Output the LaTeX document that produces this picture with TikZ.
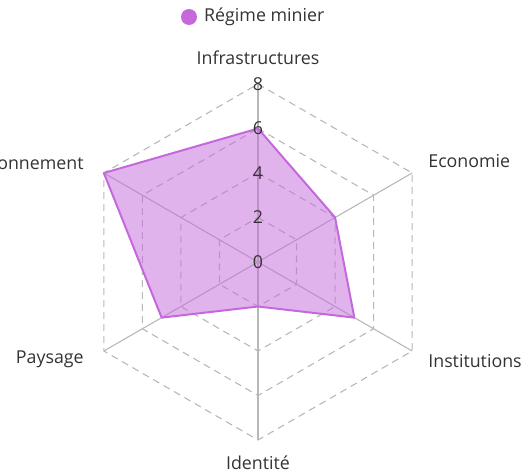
\documentclass[tikz,border=0pt]{standalone}
\usepackage{fontspec}
\setmainfont{Open Sans}
\usepackage{xcolor}
\usepackage{tikz}
\usetikzlibrary{positioning}
\definecolor{minecol}{HTML}{C468DC}
\definecolor{gridcol}{HTML}{B8B8B8}
\definecolor{txtcol}{HTML}{333333}
\tikzset{
  ringline/.style={gridcol,dashed,dash pattern=on 7pt off 5pt,line width=1.1pt},
  spokeline/.style={gridcol,line width=1.1pt},
  axislab/.style={text=txtcol,font=\fontsize{17.8}{20}\selectfont,inner sep=0pt},
  ticklab/.style={text=txtcol,font=\fontsize{17.8}{20}\selectfont,inner sep=0pt}
}

\begin{document}
\begin{tikzpicture}[x=1pt,y=1pt]
  \useasboundingbox (0,0) rectangle (525,475);
  \coordinate (c) at (258,213);
  % axis ends at value 8, one unit = 22.25
  \foreach \n/\a in {inf/90,eco/30,ins/-30,ide/-90,pay/210,env/150}{
    \coordinate (\n8) at ([shift={(\a:178)}]c);
    \draw[spokeline] (c) -- (\n8);}
  \foreach \r in {2,4,6,8}{
    \draw[ringline] ([shift={(90:\r*22.25)}]c) -- ([shift={(30:\r*22.25)}]c) -- ([shift={(-30:\r*22.25)}]c)
      -- ([shift={(-90:\r*22.25)}]c) -- ([shift={(210:\r*22.25)}]c) -- ([shift={(150:\r*22.25)}]c) -- cycle;}
  % Régime minier
  \draw[minecol,fill=minecol,fill opacity=0.5,line width=2pt,line join=round]
    ([shift={(90:6*22.25)}]c) -- ([shift={(30:4*22.25)}]c) -- ([shift={(-30:5*22.25)}]c)
    -- ([shift={(-90:2*22.25)}]c) -- ([shift={(210:5*22.25)}]c) -- ([shift={(150:8*22.25)}]c) -- cycle;
  \foreach \v in {0,2,4,6,8}{
    \node[ticklab] (t\v) at ([shift={(90:\v*22.25)}]c) {\v};}
  \node[axislab] (infra) at ([shift={(0,26)}]inf8) {Infrastructures};
  \node[axislab,anchor=west] (econ) at ([shift={(16,12)}]eco8) {Economie};
  \node[axislab,anchor=west] (inst) at ([shift={(16,-10)}]ins8) {Institutions};
  \node[axislab] (iden) at ([shift={(0,-23)}]ide8) {Identité};
  \node[axislab,anchor=east] (pays) at ([shift={(-20,-8)}]pay8) {Paysage};
  \node[axislab,anchor=east] (envi) at ([shift={(-20,10)}]env8) {Environnement};
  % legend
  \fill[minecol] (189,458) circle (8);
  \node[axislab,anchor=west] (leg) at (204,458) {Régime minier};
\end{tikzpicture}
\end{document}
